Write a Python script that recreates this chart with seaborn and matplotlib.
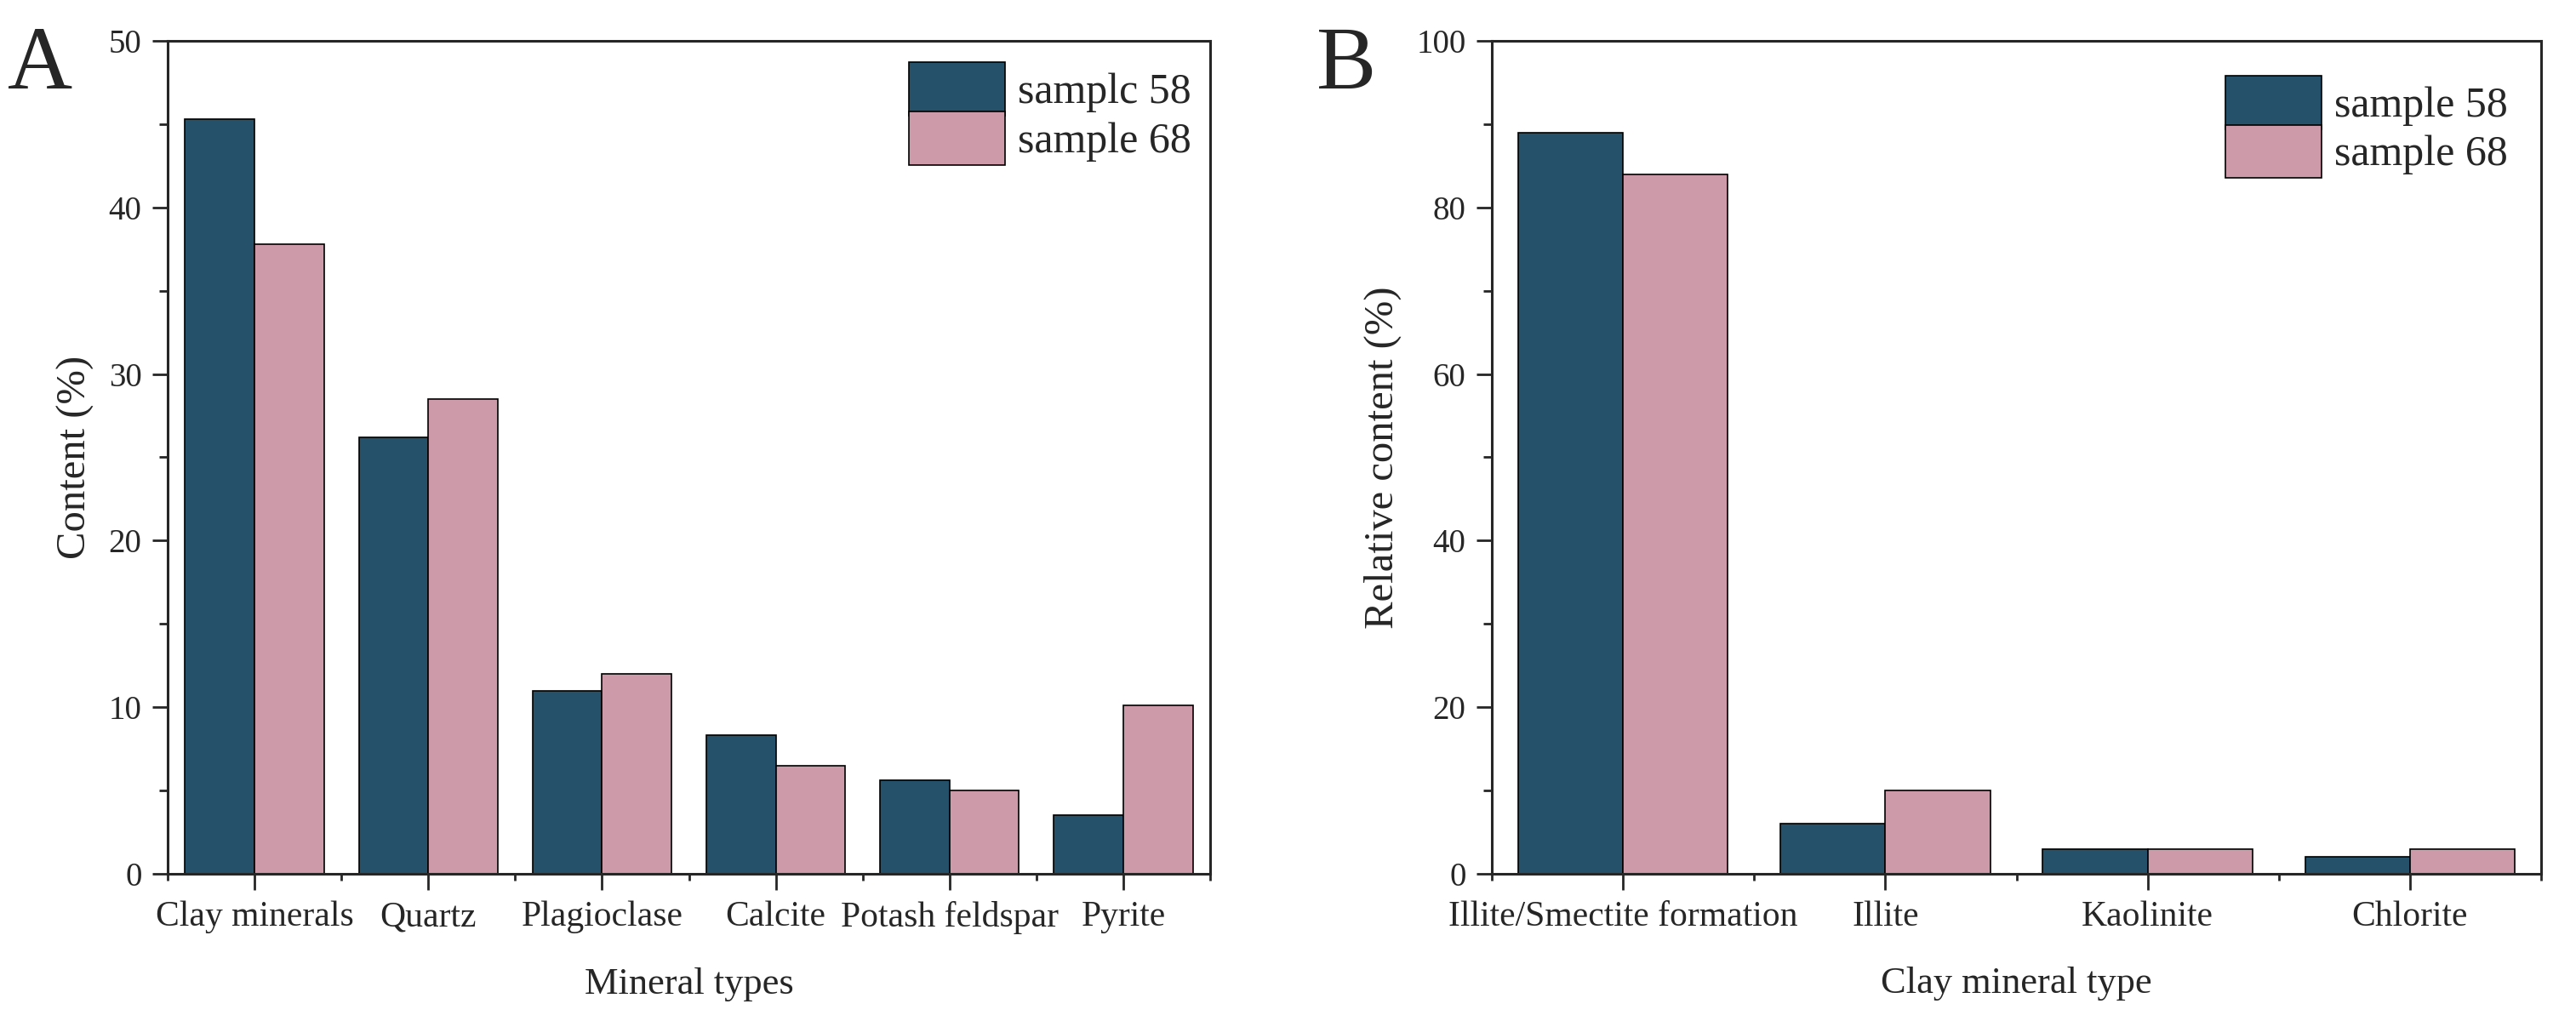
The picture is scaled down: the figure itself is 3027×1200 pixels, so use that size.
import numpy as np
import pandas as pd
import seaborn as sns
import matplotlib.pyplot as plt
from matplotlib.ticker import MultipleLocator, FixedLocator

# panel A: bulk mineral composition
minerals = ["Clay minerals", "Quartz", "Plagioclase", "Calcite", "Potash feldspar", "Pyrite"]
a_sample58 = [45.3, 26.2, 11.0, 8.3, 5.6, 3.5]
a_sample68 = [37.8, 28.5, 12.0, 6.5, 5.0, 10.1]

# panel B: clay mineral composition
clays = ["Illite/Smectite formation", "Illite", "Kaolinite", "Chlorite"]
b_sample58 = [89, 6, 3, 2]
b_sample68 = [84, 10, 3, 3]

series_names = ["sample 58", "sample 68"]
legend_labels_a = ["samplc 58", "sample 68"]
legend_labels_b = ["sample 58", "sample 68"]
colors = ["#26516A", "#CC9AA8"]


def to_long(cats, s58, s68):
    return pd.DataFrame({
        "type": cats * 2,
        "value": list(s58) + list(s68),
        "sample": [series_names[0]] * len(cats) + [series_names[1]] * len(cats),
    })


sns.set_style("ticks")
plt.rcParams['font.family'] = ['Liberation Serif', 'DejaVu Serif']
plt.rcParams['axes.linewidth'] = 2

fig = plt.figure(figsize=(30.27, 12), dpi=100)
ax_a = fig.add_axes([0.0651, 0.1442, 0.4047, 0.8158])
ax_b = fig.add_axes([0.5791, 0.1442, 0.4074, 0.8158])


def draw_panel(ax, df, cats, ymax, major, xlabel, ylabel, legend_labels, legend_anchor):
    sns.barplot(data=df, x="type", y="value", hue="sample", palette=colors,
                saturation=1, edgecolor="black", linewidth=1.2, width=0.8, ax=ax)
    n = len(cats)
    ax.set_xlim(-0.5, n - 0.5)
    ax.set_ylim(0, ymax)
    ax.yaxis.set_major_locator(MultipleLocator(major))
    ax.yaxis.set_minor_locator(MultipleLocator(major / 2))
    ax.xaxis.set_minor_locator(FixedLocator(np.arange(n + 1) - 0.5))
    ax.tick_params(axis="x", which="major", direction="out", length=14, width=2,
                   labelsize=30, pad=9)
    ax.tick_params(axis="x", which="minor", direction="out", length=6, width=2)
    ax.tick_params(axis="y", which="major", direction="out", length=13, width=2,
                   labelsize=28, pad=9)
    ax.tick_params(axis="y", which="minor", direction="out", length=7, width=2)
    for side in ["top", "right", "left", "bottom"]:
        ax.spines[side].set_visible(True)
        ax.spines[side].set_linewidth(2.2)
    ax.set_xlabel(xlabel, fontsize=32, labelpad=28)
    ax.set_ylabel(ylabel, fontsize=35, labelpad=12)
    handles, _ = ax.get_legend_handles_labels()
    ax.legend(handles, legend_labels, loc="upper right", bbox_to_anchor=legend_anchor,
              frameon=False, fontsize=36, handlelength=2.26, handleheight=1.55,
              labelspacing=-0.1, handletextpad=0.3, borderaxespad=0, borderpad=0)


draw_panel(ax_a, to_long(minerals, a_sample58, a_sample68), minerals, 50, 10,
           "Mineral types", "Content (%)", legend_labels_a, (0.982, 0.974))
draw_panel(ax_b, to_long(clays, b_sample58, b_sample68), clays, 100, 20,
           "Clay mineral type", "Relative content (%)", legend_labels_b, (0.968, 0.958))

fig.text(0.003, 0.975, "A", fontsize=76, va="top", ha="left")
fig.text(0.511, 0.975, "B", fontsize=76, va="top", ha="left")

fig.savefig("out.png", dpi=100, facecolor="white")
